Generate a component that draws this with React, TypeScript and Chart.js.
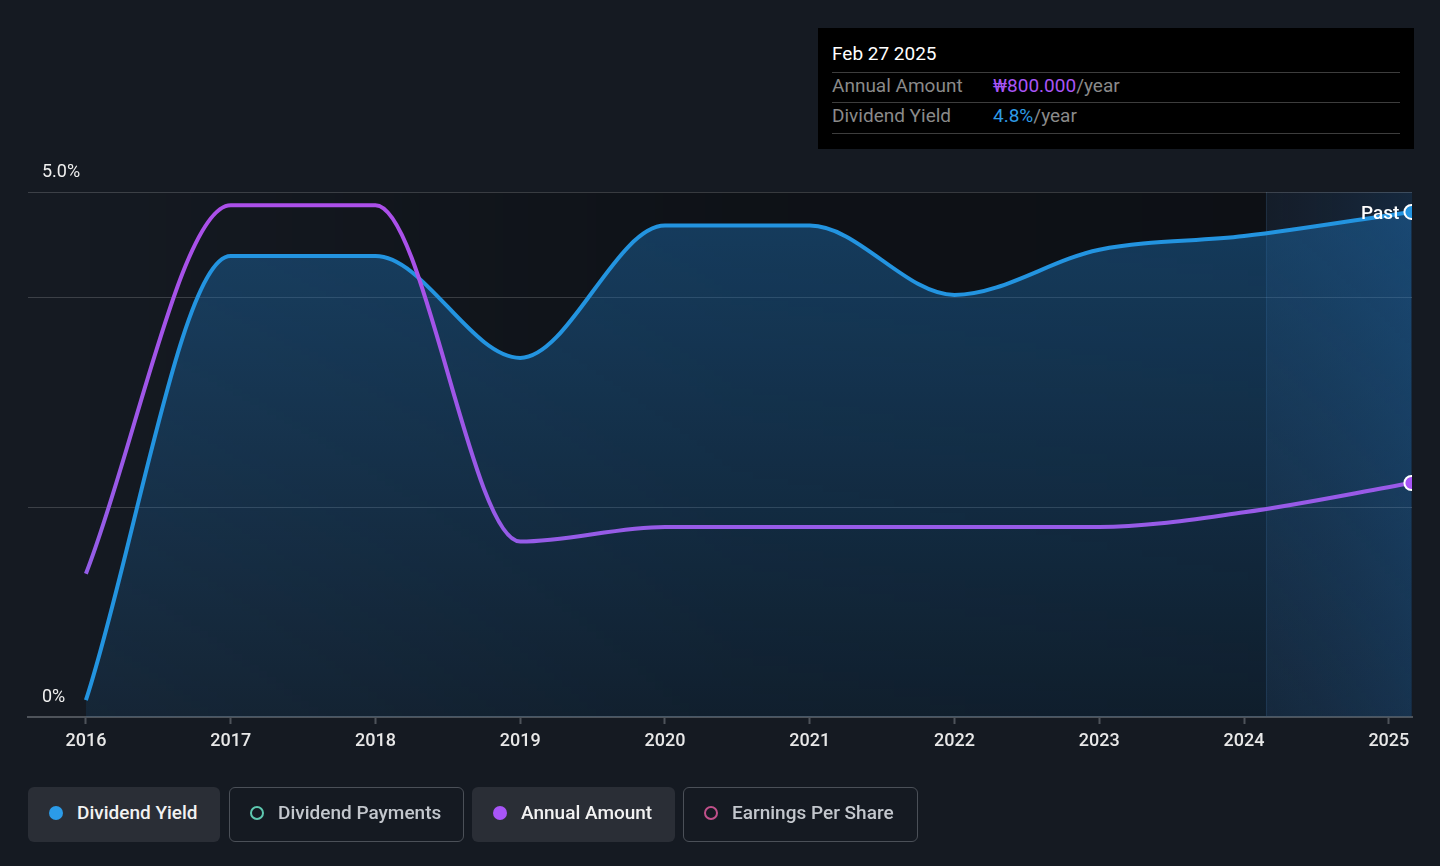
import React, { useEffect, useRef } from "react";
import { Chart, registerables } from "chart.js";

Chart.register(...registerables);

// ---- data ----
const yearTicks = [2016, 2017, 2018, 2019, 2020, 2021, 2022, 2023, 2024, 2025];
const pointYears = [2016, 2017, 2018, 2019, 2020, 2021, 2022, 2023, 2024, 2025.156];
const dividendYield = [0.16, 4.39, 4.39, 3.42, 4.68, 4.68, 4.02, 4.45, 4.58, 4.81];
const annualAmount = [490, 1750, 1750, 600, 650, 650, 650, 650, 700, 800];
const yGridValues = [0, 2, 4, 5];
const xMin = 2015.6;
const xMax = 2025.16;
const pastStart = 2024.151;

const legendItems = [
  { label: "Dividend Yield", color: "#2b9be8", active: true },
  { label: "Dividend Payments", color: "#5ec8b0", active: false },
  { label: "Annual Amount", color: "#a855f7", active: true },
  { label: "Earnings Per Share", color: "#c0508a", active: false },
];

const PAGE_BG = "#151a22";
const FONT = "Roboto, 'Noto Sans', sans-serif";

export default function App() {
  const canvasRef = useRef<HTMLCanvasElement | null>(null);

  useEffect(() => {
    document.body.style.margin = "0";
    document.body.style.background = PAGE_BG;
    const canvas = canvasRef.current;
    if (!canvas) return;

    const bgPlugin = {
      id: "bgPlugin",
      beforeDraw(chart: any) {
        const { ctx, chartArea } = chart;
        const xs = chart.scales.x;
        const x16 = xs.getPixelForValue(2016);
        const xp = xs.getPixelForValue(pastStart);
        ctx.save();
        const g = ctx.createLinearGradient(x16, 0, xp, 0);
        g.addColorStop(0, "rgba(0,0,0,0)");
        g.addColorStop(0.55, "rgba(0,0,0,0.3)");
        g.addColorStop(1, "rgba(0,0,0,0.36)");
        ctx.fillStyle = g;
        ctx.fillRect(x16, chartArea.top, xp - x16, chartArea.bottom - chartArea.top);
        const g2 = ctx.createLinearGradient(xp, 0, chartArea.right, 0);
        g2.addColorStop(0, "rgba(20,60,110,0.10)");
        g2.addColorStop(1, "rgba(25,95,165,0.22)");
        ctx.fillStyle = g2;
        ctx.fillRect(xp, chartArea.top, chartArea.right - xp, chartArea.bottom - chartArea.top);
        ctx.strokeStyle = "rgba(70,110,150,0.22)";
        ctx.lineWidth = 1;
        ctx.beginPath();
        ctx.moveTo(Math.round(xp) + 0.5, chartArea.top);
        ctx.lineTo(Math.round(xp) + 0.5, chartArea.bottom);
        ctx.stroke();
        ctx.restore();
      },
    };

    const pastLabel = {
      id: "pastLabel",
      afterDatasetsDraw(chart: any) {
        const meta = chart.getDatasetMeta(0);
        const last = meta.data[meta.data.length - 1];
        if (!last) return;
        const { ctx } = chart;
        ctx.save();
        ctx.font = `500 19px ${FONT}`;
        ctx.fillStyle = "#ffffff";
        ctx.textAlign = "right";
        ctx.textBaseline = "middle";
        ctx.fillText("Past", last.x - 12, last.y + 2);
        ctx.restore();
      },
    };

    const nPts = pointYears.length;
    const lastOnly = (r: number) => pointYears.map((_, i) => (i === nPts - 1 ? r : 0));

    const chart = new Chart(canvas, {
      type: "line",
      data: {
        datasets: [
          {
            label: "Dividend Yield",
            data: pointYears.map((x, i) => ({ x, y: dividendYield[i] })),
            yAxisID: "y",
            borderColor: "#2394e0",
            borderWidth: 4,
            cubicInterpolationMode: "monotone",
            fill: "origin",
            backgroundColor: (c: any) => {
              const { chart: ch } = c;
              const area = ch.chartArea;
              if (!area) return "rgba(35,120,190,0.25)";
              const gr = ch.ctx.createLinearGradient(0, area.top, 0, area.bottom);
              gr.addColorStop(0, "rgba(30,112,180,0.46)");
              gr.addColorStop(1, "rgba(30,112,180,0.14)");
              return gr;
            },
            pointRadius: lastOnly(7),
            pointHoverRadius: lastOnly(7),
            pointBackgroundColor: "#2394e0",
            pointBorderColor: "#ffffff",
            pointBorderWidth: 2,
            order: 2,
          },
          {
            label: "Annual Amount",
            data: pointYears.map((x, i) => ({ x, y: annualAmount[i] })),
            yAxisID: "y2",
            borderColor: (c: any) => {
              const { chart: ch } = c;
              const area = ch.chartArea;
              if (!area) return "#a855f7";
              const gr = ch.ctx.createLinearGradient(0, area.top, 0, area.bottom);
              gr.addColorStop(0, "#ad4fea");
              gr.addColorStop(1, "#8a62e6");
              return gr;
            },
            borderWidth: 4,
            cubicInterpolationMode: "monotone",
            fill: false,
            pointRadius: lastOnly(7),
            pointHoverRadius: lastOnly(7),
            pointBackgroundColor: "#a855f7",
            pointBorderColor: "#ffffff",
            pointBorderWidth: 2,
            order: 1,
          },
        ],
      },
      options: {
        responsive: false,
        animation: false,
        events: [],
        layout: { padding: { top: 192, left: 28, right: 28, bottom: 0 } },
        plugins: {
          legend: { display: false },
          tooltip: { enabled: false },
        },
        scales: {
          x: {
            type: "linear",
            min: xMin,
            max: xMax,
            afterBuildTicks: (s: any) => {
              s.ticks = yearTicks.map((v) => ({ value: v }));
            },
            afterFit: (s: any) => {
              s.height = 866 - 717;
            },
            ticks: {
              color: "#e8e8e8",
              font: { family: FONT, size: 18, weight: "500" },
              padding: 7,
              maxRotation: 0,
              autoSkip: false,
              callback: (v: any) => String(v),
            },
            grid: {
              display: true,
              drawOnChartArea: false,
              drawTicks: true,
              tickLength: 7,
              tickWidth: 2,
              tickColor: "#4e535a",
            },
            border: { display: true, color: "#4e535a", width: 2 },
          },
          y: {
            type: "linear",
            min: 0,
            max: 5,
            afterBuildTicks: (s: any) => {
              s.ticks = yGridValues.map((v) => ({ value: v }));
            },
            afterFit: (s: any) => {
              s.width = 0;
            },
            ticks: {
              mirror: true,
              padding: 14,
              labelOffset: -20,
              color: "#f0f0f0",
              font: { family: FONT, size: 18 },
              callback: (v: any) => (v === 5 ? "5.0%" : v === 0 ? "0%" : ""),
            },
            grid: {
              display: true,
              drawTicks: false,
              color: "rgba(255,255,255,0.17)",
              lineWidth: 1,
            },
            border: { display: false },
          },
          y2: {
            type: "linear",
            display: false,
            min: 0,
            max: 1795,
          },
        },
      },
      plugins: [bgPlugin, pastLabel],
    } as any);

    return () => chart.destroy();
  }, []);

  return (
    <div
      style={{
        position: "relative",
        width: 1440,
        height: 866,
        background: PAGE_BG,
        fontFamily: FONT,
        overflow: "hidden",
      }}
    >
      <canvas
        ref={canvasRef}
        width={1440}
        height={866}
        style={{ position: "absolute", left: 0, top: 0, width: 1440, height: 866 }}
      />
      {/* tooltip box */}
      <div
        style={{
          position: "absolute",
          left: 818,
          top: 28,
          width: 596,
          height: 121,
          background: "#000000",
          color: "#fff",
        }}
      >
        <div style={{ position: "absolute", left: 14, top: 44, width: 568, height: 1, background: "#3d3d3d" }} />
        <div style={{ position: "absolute", left: 14, top: 74, width: 568, height: 1, background: "#3d3d3d" }} />
        <div style={{ position: "absolute", left: 14, top: 105, width: 568, height: 1, background: "#3d3d3d" }} />
        <div style={{ position: "absolute", left: 14, top: 14, fontSize: 19, lineHeight: "24px", color: "#ffffff", fontWeight: 400 }}>
          Feb 27 2025
        </div>
        <div style={{ position: "absolute", left: 14, top: 46, fontSize: 19, lineHeight: "24px", color: "#8a8a8a" }}>
          Annual Amount
        </div>
        <div style={{ position: "absolute", left: 175, top: 46, fontSize: 19, lineHeight: "24px", color: "#8a8a8a" }}>
          <span style={{ color: "#a855f7" }}>₩800.000</span>/year
        </div>
        <div style={{ position: "absolute", left: 14, top: 76, fontSize: 19, lineHeight: "24px", color: "#8a8a8a" }}>
          Dividend Yield
        </div>
        <div style={{ position: "absolute", left: 175, top: 76, fontSize: 19, lineHeight: "24px", color: "#8a8a8a" }}>
          <span style={{ color: "#2e9be6" }}>4.8%</span>/year
        </div>
      </div>
      {/* legend */}
      {legendItems.map((it, i) => {
        const lefts = [28, 229, 472, 683];
        const widths = [192, 235, 203, 235];
        return (
          <div
            key={it.label}
            style={{
              position: "absolute",
              left: lefts[i],
              top: 787,
              width: widths[i],
              height: 55,
              boxSizing: "border-box",
              borderRadius: 6,
              background: it.active ? "#2a2e36" : "transparent",
              border: it.active ? "none" : "1.5px solid #4b5058",
              display: "flex",
              alignItems: "center",
              paddingLeft: it.active ? 21 : 20,
              paddingBottom: 4,
            }}
          >
            <span
              style={{
                display: "inline-block",
                width: 14,
                height: 14,
                borderRadius: "50%",
                boxSizing: "border-box",
                background: it.active ? it.color : "transparent",
                border: it.active ? "none" : `2.5px solid ${it.color}`,
                marginRight: 14,
              }}
            />
            <span
              style={{
                fontSize: 19,
                fontWeight: 500,
                color: it.active ? "#f2f2f2" : "#c3c7cd",
                whiteSpace: "nowrap",
              }}
            >
              {it.label}
            </span>
          </div>
        );
      })}
    </div>
  );
}
